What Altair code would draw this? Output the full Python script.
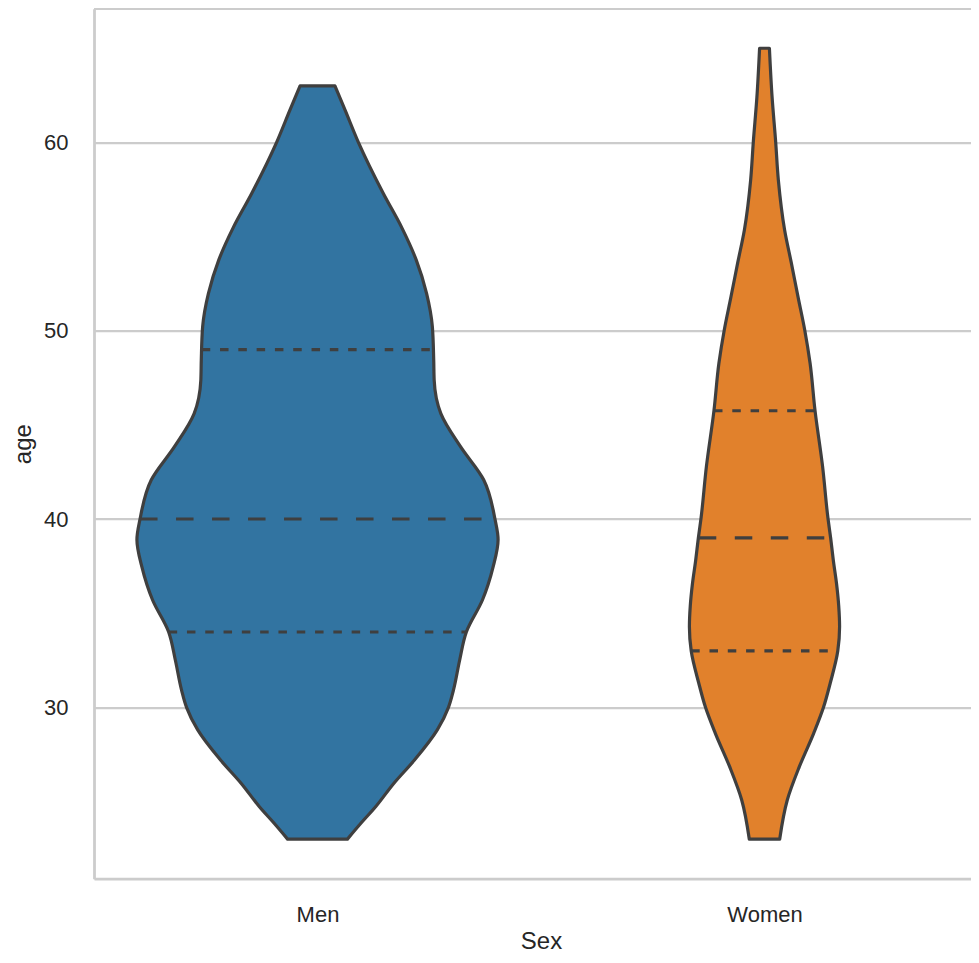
import altair as alt
import pandas as pd

# ---------------- data ----------------
CATEGORIES = ["Men", "Women"]
COLORS = ["#3274a1", "#e1812c"]

# violin outline: age and half width (in category units, max ~0.4)
MEN_AGE = [23.0, 23.84, 24.72, 25.97, 27.2, 28.8, 30.0, 30.9, 32.5, 34.0,
           35.7, 37.47, 38.9, 40.0, 42.07, 43.84, 45.6, 47.38, 48.44, 50.2,
           51.98, 53.75, 55.5, 57.3, 60.03, 61.7, 63.0]
MEN_HALF = [0.067, 0.097, 0.130, 0.171, 0.217, 0.268, 0.293, 0.304, 0.318, 0.333,
            0.369, 0.393, 0.404, 0.397, 0.372, 0.320, 0.276, 0.261, 0.260, 0.257,
            0.244, 0.221, 0.188, 0.147, 0.091, 0.062, 0.039]

WOMEN_AGE = [23.0, 25.08, 26.85, 28.62, 30.0, 31.28, 33.0, 34.28, 35.4, 36.6,
             37.8, 38.99, 40.04, 42.78, 45.77, 48.27, 50.04, 51.8, 53.6, 55.35,
             58.0, 60.03, 62.4, 65.0]
WOMEN_HALF = [0.034, 0.051, 0.078, 0.110, 0.132, 0.147, 0.164, 0.168, 0.166, 0.161,
              0.154, 0.148, 0.142, 0.130, 0.113, 0.102, 0.090, 0.075, 0.060, 0.045,
              0.031, 0.025, 0.017, 0.011]

# quartiles (Q1, median, Q3) and violin half width at those ages
MEN_QUART = [34.0, 40.0, 49.0]
MEN_QUART_HALF = [0.333, 0.397, 0.259]
WOMEN_QUART = [33.0, 39.0, 45.75]
WOMEN_QUART_HALF = [0.164, 0.147, 0.113]

Y_TICKS = [30, 40, 50, 60]

# ---------------- tables ----------------
rows = []
for i, (ages, halves) in enumerate([(MEN_AGE, MEN_HALF), (WOMEN_AGE, WOMEN_HALF)]):
    for a, h in zip(ages, halves):
        rows.append({"sex": CATEGORIES[i], "pos": i, "age": a, "hw": h})
violin_df = pd.DataFrame(rows)

qrows = []
for i, (qs, hs) in enumerate([(MEN_QUART, MEN_QUART_HALF), (WOMEN_QUART, WOMEN_QUART_HALF)]):
    for j, (a, h) in enumerate(zip(qs, hs)):
        qrows.append({"sex": CATEGORIES[i], "pos": i, "age": a, "hw": h,
                      "kind": "median" if j == 1 else "quartile"})
quart_df = pd.DataFrame(qrows)

# ---------------- style ----------------
W, H = 877, 870
FONT = "Liberation Sans"
TXT = "#262626"
SPINE = "#cccccc"
EDGE = "#3f3f3f"
LW = 3.2

xscale = alt.Scale(domain=[-0.5, -0.5 + W / 447.0], nice=False, zero=False)
yscale = alt.Scale(domain=[20.9, 67.1], nice=False, zero=False)

label_expr = "[" + ",".join("'%s'" % c for c in CATEGORIES) + "][datum.value]"

xaxis = alt.Axis(values=[0, 1], labelExpr=label_expr, grid=False, ticks=False,
                 tickSize=0, domainColor=SPINE, domainWidth=2.8,
                 labelFont=FONT, labelFontSize=22, labelColor=TXT,
                 labelBaseline="alphabetic", labelPadding=43,
                 title="Sex", titleFont=FONT, titleFontSize=24, titleColor=TXT,
                 titleFontWeight="normal", titleX=447, titleY=70,
                 titleAlign="center", titleBaseline="alphabetic")
yaxis = alt.Axis(values=Y_TICKS, grid=True, gridColor=SPINE, gridWidth=2.2,
                 ticks=False, tickSize=0, domainColor=SPINE, domainWidth=2.8,
                 labelFont=FONT, labelFontSize=22, labelColor=TXT,
                 labelPadding=26, labelBaseline="middle",
                 title="age", titleFont=FONT, titleFontSize=24, titleColor=TXT,
                 titleFontWeight="normal", titleAngle=270, titleX=-64, titleY=H / 2,
                 titleAlign="center", titleBaseline="alphabetic")

violins = alt.Chart(violin_df).transform_calculate(
    lo="datum.pos - datum.hw", hi="datum.pos + datum.hw"
).mark_area(orient="horizontal", interpolate="monotone", stroke=EDGE,
            strokeWidth=LW, strokeJoin="round", opacity=1).encode(
    y=alt.Y("age:Q", scale=yscale, axis=yaxis),
    x=alt.X("lo:Q", scale=xscale, axis=xaxis),
    x2="hi:Q",
    color=alt.Color("sex:N", scale=alt.Scale(domain=CATEGORIES, range=COLORS), legend=None),
)

qbase = alt.Chart(quart_df).transform_calculate(
    lo="datum.pos - datum.hw", hi="datum.pos + datum.hw"
)
medians = qbase.transform_filter("datum.kind == 'median'").mark_rule(
    stroke=EDGE, strokeWidth=LW, strokeDash=[17.5, 18.5], strokeCap="butt"
).encode(y="age:Q", x="lo:Q", x2="hi:Q")
quarts = qbase.transform_filter("datum.kind == 'quartile'").mark_rule(
    stroke=EDGE, strokeWidth=LW, strokeDash=[8.5, 9.8], strokeCap="butt"
).encode(y="age:Q", x="lo:Q", x2="hi:Q")

top_border = alt.Chart(pd.DataFrame({"k": [0]})).mark_rule(
    stroke=SPINE, strokeWidth=2.8
).encode(x=alt.value(0), x2=alt.value(W), y=alt.value(0))

chart = alt.layer(top_border, violins, medians, quarts).properties(
    width=W, height=H,
    autosize=alt.AutoSizeParams(type="none"),
    padding={"left": 86, "top": 0.7, "right": 0, "bottom": 76},
).configure_view(strokeWidth=0).configure(background="white")

chart.save("out.html", embed_options={"renderer": "svg", "actions": False})
